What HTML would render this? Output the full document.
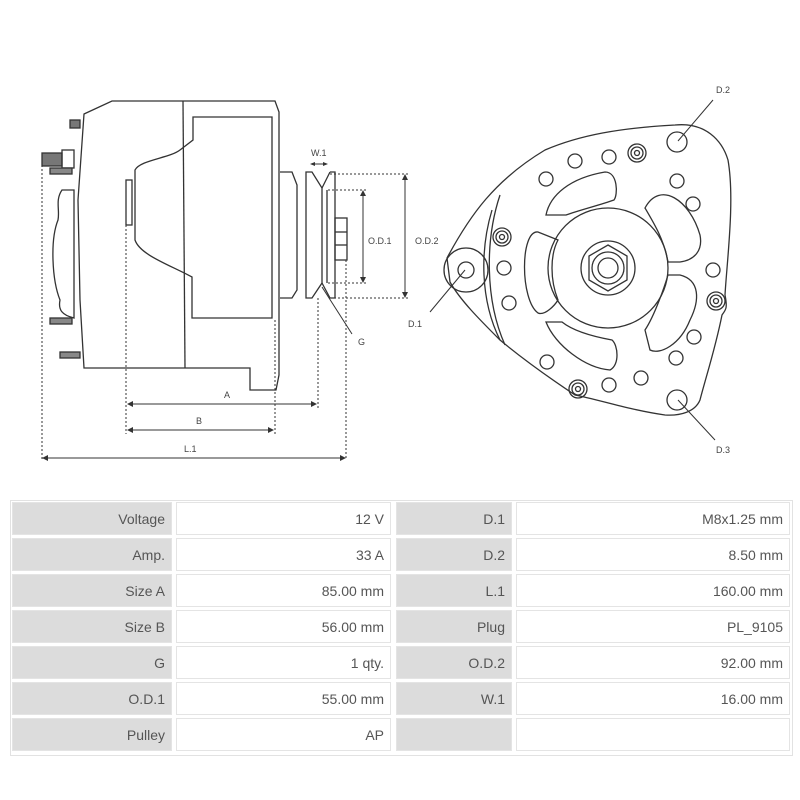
<!DOCTYPE html>
<html><head><meta charset="utf-8"><style>
body{margin:0;width:800px;height:800px;background:#fff;position:relative;overflow:hidden;font-family:"Liberation Sans","DejaVu Sans",sans-serif}
.c{position:absolute;height:33px;line-height:33px;text-align:right;font-size:14px;color:#555;box-sizing:border-box;padding-right:6px;border:1px solid #e4e4e4}
.g{background:#dcdcdc}
.w{background:#fff}
#tb{position:absolute;left:10px;top:500px;width:783px;height:256px;border:1px solid #e2e2e2;box-sizing:border-box}
</style></head><body>
<svg width="800" height="500" style="position:absolute;left:0;top:0" fill="none" stroke="#333" stroke-width="1.3">
<!-- left view -->
<path d="M84,114 L112,101 L275,101 L279,112 L279,375 L276,390 L250,390 L250,368 L84,368 L80,300 L78,200 Z"/>
<line x1="183" y1="101" x2="185" y2="368"/>
<path d="M193,117 L272,117 L272,318 L192,318 L192,277 C170,265 140,255 135,240 L135,170 C140,160 170,158 180,150 L193,140 Z"/>
<rect x="126" y="180" width="6" height="45"/>
<path d="M280,172 L292,172 L297,185 L297,290 L292,298 L280,298"/>
<path d="M306,172 L312,172 L322,188 L322,283 L312,298 L306,298 Z"/>
<path d="M330,172 L322,188 M322,283 L330,298 L335,298 L335,172 L330,172"/>
<line x1="327" y1="190" x2="327" y2="283"/>
<rect x="335" y="218" width="12" height="42"/>
<line x1="335" y1="232" x2="347" y2="232"/><line x1="335" y1="245" x2="347" y2="245"/>
<rect x="70" y="120" width="10" height="8" fill="#777"/>
<rect x="42" y="153" width="20" height="13" fill="#777"/>
<rect x="62" y="150" width="12" height="18"/>
<rect x="50" y="168" width="22" height="6" fill="#888"/>
<rect x="50" y="318" width="22" height="6" fill="#888"/>
<rect x="60" y="352" width="20" height="6" fill="#888"/>
<path d="M74,190 L62,190 C55,200 60,210 58,220 C50,240 52,280 60,300 C58,310 62,315 74,318 Z"/>
<g stroke-dasharray="2,2" stroke-width="1">
<line x1="42" y1="165" x2="42" y2="460"/><line x1="126" y1="225" x2="126" y2="434"/>
<line x1="275" y1="320" x2="275" y2="434"/><line x1="318" y1="298" x2="318" y2="410"/>
<line x1="346" y1="260" x2="346" y2="460"/>
<line x1="330" y1="174" x2="410" y2="174"/><line x1="328" y1="190" x2="368" y2="190"/>
<line x1="328" y1="283" x2="368" y2="283"/><line x1="330" y1="298" x2="410" y2="298"/>
</g>
<g stroke-width="1">
<line x1="128" y1="404" x2="316" y2="404"/><line x1="128" y1="430" x2="273" y2="430"/>
<line x1="44" y1="458" x2="344" y2="458"/><line x1="311" y1="164" x2="327" y2="164"/>
<line x1="363" y1="192" x2="363" y2="281"/><line x1="405" y1="176" x2="405" y2="296"/>
<line x1="322" y1="287" x2="352" y2="334"/>
<line x1="465" y1="270" x2="430" y2="312"/><line x1="678" y1="141" x2="713" y2="100"/>
<line x1="678" y1="400" x2="715" y2="440"/>
</g>
<g fill="#333" stroke="none">
<path d="M127,404 l6,-3 v6z M317,404 l-6,-3 v6z M127,430 l6,-3 v6z M274,430 l-6,-3 v6z M42,458 l6,-3 v6z M346,458 l-6,-3 v6z M310,164 l5,-2 v4z M328,164 l-5,-2 v4z M363,190 l-3,6 h6z M363,283 l-3,-6 h6z M405,174 l-3,6 h6z M405,298 l-3,-6 h6z"/>
</g>
<g fill="#444" stroke="none" font-size="9" font-family="Liberation Sans,sans-serif">
<text x="224" y="398">A</text><text x="196" y="424">B</text><text x="184" y="452">L.1</text>
<text x="311" y="156">W.1</text><text x="368" y="244">O.D.1</text><text x="415" y="244">O.D.2</text>
<text x="358" y="345">G</text><text x="408" y="327">D.1</text><text x="716" y="93">D.2</text><text x="716" y="453">D.3</text>
</g>
<!-- right view -->
<path d="M447,258 C470,215 495,180 545,150 C580,135 620,128 675,125 C705,122 722,140 728,160 C735,200 727,260 725,295 C728,310 725,310 722,315 C715,350 705,380 700,400 C695,412 680,416 665,415 C630,410 600,400 575,395 C560,385 530,365 500,340 C480,320 460,300 450,282 Z"/>
<path d="M492,210 C480,250 480,300 500,340" /><path d="M500,195 C485,240 485,300 505,345"/>
<circle cx="466" cy="270" r="22"/><circle cx="466" cy="270" r="8"/>
<circle cx="608" cy="268" r="60"/>
<circle cx="608" cy="268" r="27"/>
<polygon points="608,245 627,256 627,280 608,291 589,280 589,256"/>
<circle cx="608" cy="268" r="16"/><circle cx="608" cy="268" r="10"/>
<circle cx="677" cy="142" r="10"/><circle cx="677" cy="400" r="10"/>
<g>
<circle cx="575" cy="161" r="7"/><circle cx="609" cy="157" r="7"/><circle cx="546" cy="179" r="7"/>
<circle cx="677" cy="181" r="7"/><circle cx="693" cy="204" r="7"/><circle cx="504" cy="268" r="7"/>
<circle cx="509" cy="303" r="7"/><circle cx="713" cy="270" r="7"/><circle cx="694" cy="337" r="7"/>
<circle cx="676" cy="358" r="7"/><circle cx="547" cy="362" r="7"/><circle cx="609" cy="385" r="7"/>
<circle cx="641" cy="378" r="7"/>
</g>
<g>
<circle cx="637" cy="153" r="9"/><circle cx="637" cy="153" r="6"/><circle cx="637" cy="153" r="2.5"/>
<circle cx="502" cy="237" r="9"/><circle cx="502" cy="237" r="6"/><circle cx="502" cy="237" r="2.5"/>
<circle cx="716" cy="301" r="9"/><circle cx="716" cy="301" r="6"/><circle cx="716" cy="301" r="2.5"/>
<circle cx="578" cy="389" r="9"/><circle cx="578" cy="389" r="6"/><circle cx="578" cy="389" r="2.5"/>
</g>
<g>
<path d="M546,215 C550,195 570,178 605,172 C618,172 618,195 614,200 C600,205 580,210 566,215 Z"/>
<path d="M645,208 C660,180 690,200 700,235 C703,250 695,260 680,262 L668,262 C664,240 655,225 645,208 Z"/>
<path d="M538,232 C520,230 520,300 538,313 C545,316 555,305 558,300 C550,280 550,255 558,240 Z"/>
<path d="M546,322 C555,345 585,368 610,370 C620,365 618,345 612,340 C590,336 572,330 562,322 Z"/>
<path d="M645,330 C655,315 665,285 668,275 L680,275 C700,280 700,300 690,320 C680,345 660,355 650,350 Z"/>
</g>
</svg>
<div id="tb"></div>
<div class="c g" style="left:12px;top:502px;width:160px">Voltage</div><div class="c w" style="left:176px;top:502px;width:215px">12 V</div><div class="c g" style="left:396px;top:502px;width:116px">D.1</div><div class="c w" style="left:516px;top:502px;width:274px">M8x1.25 mm</div>
<div class="c g" style="left:12px;top:538px;width:160px">Amp.</div><div class="c w" style="left:176px;top:538px;width:215px">33 A</div><div class="c g" style="left:396px;top:538px;width:116px">D.2</div><div class="c w" style="left:516px;top:538px;width:274px">8.50 mm</div>
<div class="c g" style="left:12px;top:574px;width:160px">Size A</div><div class="c w" style="left:176px;top:574px;width:215px">85.00 mm</div><div class="c g" style="left:396px;top:574px;width:116px">L.1</div><div class="c w" style="left:516px;top:574px;width:274px">160.00 mm</div>
<div class="c g" style="left:12px;top:610px;width:160px">Size B</div><div class="c w" style="left:176px;top:610px;width:215px">56.00 mm</div><div class="c g" style="left:396px;top:610px;width:116px">Plug</div><div class="c w" style="left:516px;top:610px;width:274px">PL_9105</div>
<div class="c g" style="left:12px;top:646px;width:160px">G</div><div class="c w" style="left:176px;top:646px;width:215px">1 qty.</div><div class="c g" style="left:396px;top:646px;width:116px">O.D.2</div><div class="c w" style="left:516px;top:646px;width:274px">92.00 mm</div>
<div class="c g" style="left:12px;top:682px;width:160px">O.D.1</div><div class="c w" style="left:176px;top:682px;width:215px">55.00 mm</div><div class="c g" style="left:396px;top:682px;width:116px">W.1</div><div class="c w" style="left:516px;top:682px;width:274px">16.00 mm</div>
<div class="c g" style="left:12px;top:718px;width:160px">Pulley</div><div class="c w" style="left:176px;top:718px;width:215px">AP</div><div class="c g" style="left:396px;top:718px;width:116px"></div><div class="c w" style="left:516px;top:718px;width:274px"></div>
</body></html>
